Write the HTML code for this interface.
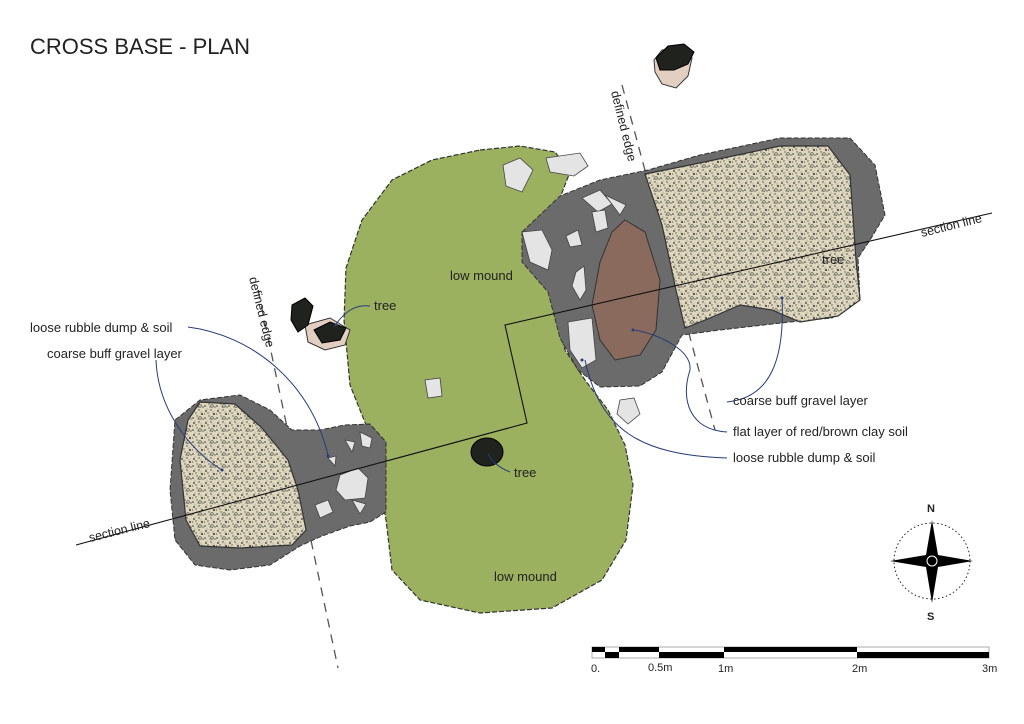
<!DOCTYPE html>
<html><head><meta charset="utf-8"><style>
html,body{margin:0;padding:0;background:#fff;width:1024px;height:724px;overflow:hidden}
svg{display:block}
text{font-family:"Liberation Sans","DejaVu Sans",sans-serif;fill:#222}
</style></head><body>
<svg width="1024" height="724" viewBox="0 0 1024 724" xmlns="http://www.w3.org/2000/svg">
<defs>
<pattern id="grav" width="12" height="12" patternUnits="userSpaceOnUse">
<rect width="12" height="12" fill="#ddd6bd"/>
<circle cx="2" cy="3" r="0.9" fill="#333"/><circle cx="7" cy="2" r="0.7" fill="#444"/>
<circle cx="10" cy="6" r="1" fill="#333"/><circle cx="5" cy="8" r="0.7" fill="#555"/>
<circle cx="1" cy="10" r="0.8" fill="#333"/><circle cx="8" cy="10" r="1.3" fill="none" stroke="#444" stroke-width="0.6"/>
<circle cx="4" cy="5" r="0.6" fill="#222"/><circle cx="11" cy="11" r="0.6" fill="#222"/>
<circle cx="3" cy="1" r="0.4" fill="#222"/><circle cx="9" cy="4" r="0.4" fill="#222"/>
<circle cx="6" cy="11" r="0.5" fill="#222"/><circle cx="0.5" cy="6" r="0.5" fill="#222"/>
</pattern>
</defs>
<text x="30" y="54" font-size="22">CROSS BASE - PLAN</text>

<line x1="622" y1="85" x2="715" y2="430" stroke="#555" stroke-width="1.3" stroke-dasharray="9,7"/>
<line x1="258" y1="290" x2="338" y2="668" stroke="#555" stroke-width="1.3" stroke-dasharray="9,7"/>

<path d="M480,150 L520,146 L555,152 L570,172 L560,198 L552,240 L552,300 L565,350 L585,380 L608,410 L625,445 L633,485 L626,540 L602,580 L552,608 L480,613 L420,600 L392,570 L386,520 L372,440 L350,385 L344,320 L346,268 L362,220 L392,180 L432,160 Z" fill="#9bb160" stroke="#333" stroke-width="1.2" stroke-dasharray="5,2"/>

<path d="M522,232 L560,196 L600,180 L648,170 L700,155 L780,138 L850,138 L875,165 L885,215 L870,240 L858,258 L860,300 L832,318 L790,322 L720,330 L682,335 L662,372 L640,386 L600,387 L578,370 L560,338 L548,292 L522,262 Z" fill="#6b6b6b" stroke="#333" stroke-width="1" stroke-dasharray="5,2"/>
<path d="M645,174 L690,165 L780,146 L828,146 L850,175 L856,260 L860,300 L838,316 L800,322 L772,310 L740,305 L710,318 L685,328 L676,290 L662,225 Z" fill="url(#grav)" stroke="#333" stroke-width="1.2"/>
<path d="M625,220 L645,232 L660,280 L656,330 L640,355 L615,360 L600,340 L592,305 L600,262 L612,232 Z" fill="#8a6a5d" stroke="#333" stroke-width="1"/>
<g fill="#e4e4e4" stroke="#444" stroke-width="0.8">
<path d="M503,165 L520,158 L533,170 L522,192 L506,186 Z"/>
<path d="M546,158 L580,153 L588,166 L574,176 L550,172 Z"/>
<path d="M522,232 L542,230 L552,250 L548,270 L530,262 Z"/>
<path d="M582,198 L600,190 L612,204 L598,212 Z"/>
<path d="M592,212 L605,210 L608,228 L596,232 Z"/>
<path d="M605,195 L626,205 L620,215 Z"/>
<path d="M566,236 L578,230 L582,245 L570,247 Z"/>
<path d="M576,272 L584,266 L586,290 L580,300 L572,286 Z"/>
<path d="M568,322 L592,318 L596,360 L582,368 L570,350 Z"/>
<path d="M620,400 L634,398 L640,414 L628,424 L617,414 Z"/>
<path d="M425,380 L440,378 L442,396 L428,398 Z"/>
</g>

<path d="M175,420 L200,400 L240,395 L270,410 L292,430 L320,430 L345,425 L370,424 L386,442 L386,512 L370,522 L350,526 L322,536 L300,546 L270,565 L230,570 L195,565 L175,540 L170,490 Z" fill="#6b6b6b" stroke="#333" stroke-width="1" stroke-dasharray="5,2"/>
<path d="M200,402 L235,404 L262,428 L288,460 L298,490 L306,530 L292,545 L240,548 L200,546 L186,520 L180,460 L188,420 Z" fill="url(#grav)" stroke="#333" stroke-width="1.2"/>
<g fill="#e4e4e4" stroke="#444" stroke-width="0.8">
<path d="M340,475 L358,468 L368,478 L365,498 L345,500 L336,490 Z"/>
<path d="M315,505 L328,500 L333,512 L320,518 Z"/>
<path d="M345,440 L355,442 L352,452 Z"/>
<path d="M328,458 L336,456 L335,466 Z"/>
<path d="M352,500 L366,504 L360,514 Z"/>
<path d="M360,432 L372,438 L370,448 L362,446 Z"/>
</g>

<path d="M654,60 L662,50 L680,48 L692,58 L688,76 L676,88 L662,84 L655,72 Z" fill="#e3cfc1" stroke="#333"/>
<path d="M656,58 L668,46 L684,44 L694,52 L688,64 L674,70 L660,70 Z" fill="#1f221d" stroke="#000"/>
<path d="M305,325 L330,318 L350,330 L345,345 L325,350 L308,342 Z" fill="#e3cfc1" stroke="#333"/>
<path d="M292,305 L305,298 L313,306 L308,325 L298,332 L291,320 Z" fill="#1f221d" stroke="#000"/>
<path d="M314,330 L330,322 L346,328 L340,340 L322,343 Z" fill="#1f221d" stroke="#000"/>
<ellipse cx="487" cy="452" rx="16" ry="14" fill="#1f221d" stroke="#000"/>

<polyline points="76,545 527,423 505,325 992,213" fill="none" stroke="#111" stroke-width="1.1"/>
<text x="0" y="0" font-size="12.5" transform="translate(90,542) rotate(-14)">section line</text>
<text x="0" y="0" font-size="12.5" transform="translate(922,237) rotate(-14)">section line</text>
<text x="0" y="0" font-size="12.5" transform="translate(611,92) rotate(76)">defined edge</text>
<text x="0" y="0" font-size="12.5" transform="translate(249,278) rotate(76)">defined edge</text>

<g fill="none" stroke="#283b7a" stroke-width="1">
<path d="M370,306 C355,304 345,312 336,324"/>
<path d="M188,327 C250,335 310,380 328,455"/>
<path d="M156,360 C158,410 190,450 222,470"/>
<path d="M510,472 C500,468 492,462 488,454"/>
<path d="M727,402 C770,398 785,360 782,298"/>
<path d="M727,432 C690,430 680,400 690,370 C692,350 660,335 635,330"/>
<path d="M727,458 C640,455 600,430 585,360"/>
</g>
<g fill="#283b7a"><circle cx="336" cy="325" r="1.5"/><circle cx="328" cy="456" r="1.5"/><circle cx="222" cy="470" r="1.5"/><circle cx="782" cy="298" r="1.5"/><circle cx="633" cy="330" r="1.5"/><circle cx="582" cy="360" r="1.5"/></g>

<g font-size="13">
<text x="374" y="310">tree</text>
<text x="30" y="332">loose rubble dump &amp; soil</text>
<text x="47" y="358">coarse buff gravel layer</text>
<text x="450" y="280">low mound</text>
<text x="494" y="581">low mound</text>
<text x="514" y="477">tree</text>
<text x="822" y="264">tree</text>
<text x="733" y="405">coarse buff gravel layer</text>
<text x="733" y="436">flat layer of red/brown  clay soil</text>
<text x="733" y="462">loose rubble dump &amp; soil</text>
</g>

<circle cx="932" cy="561" r="38" fill="none" stroke="#222" stroke-width="1" stroke-dasharray="1.5,2.5"/>
<path d="M932,520 L938,555 L973,561 L938,567 L932,603 L926,567 L890,561 L926,555 Z" fill="#000"/>
<circle cx="932" cy="561" r="5" fill="#000" stroke="#fff" stroke-width="1"/>
<text x="927" y="512" font-size="11" font-weight="bold">N</text>
<text x="927" y="620" font-size="11" font-weight="bold">S</text>

<rect x="592" y="647" width="397" height="11" fill="#fff" stroke="#888" stroke-width="0.7"/>
<g fill="#000">
<rect x="592" y="647" width="13" height="5"/><rect x="605" y="652" width="14" height="6"/>
<rect x="619" y="647" width="40" height="5"/><rect x="659" y="652" width="65" height="6"/>
<rect x="724" y="647" width="133" height="5"/><rect x="857" y="652" width="132" height="6"/>
</g>
<g font-size="11"><text x="591" y="672">0.</text><text x="648" y="671">0.5m</text><text x="718" y="672">1m</text><text x="852" y="672">2m</text><text x="982" y="672">3m</text></g>
</svg>
</body></html>
